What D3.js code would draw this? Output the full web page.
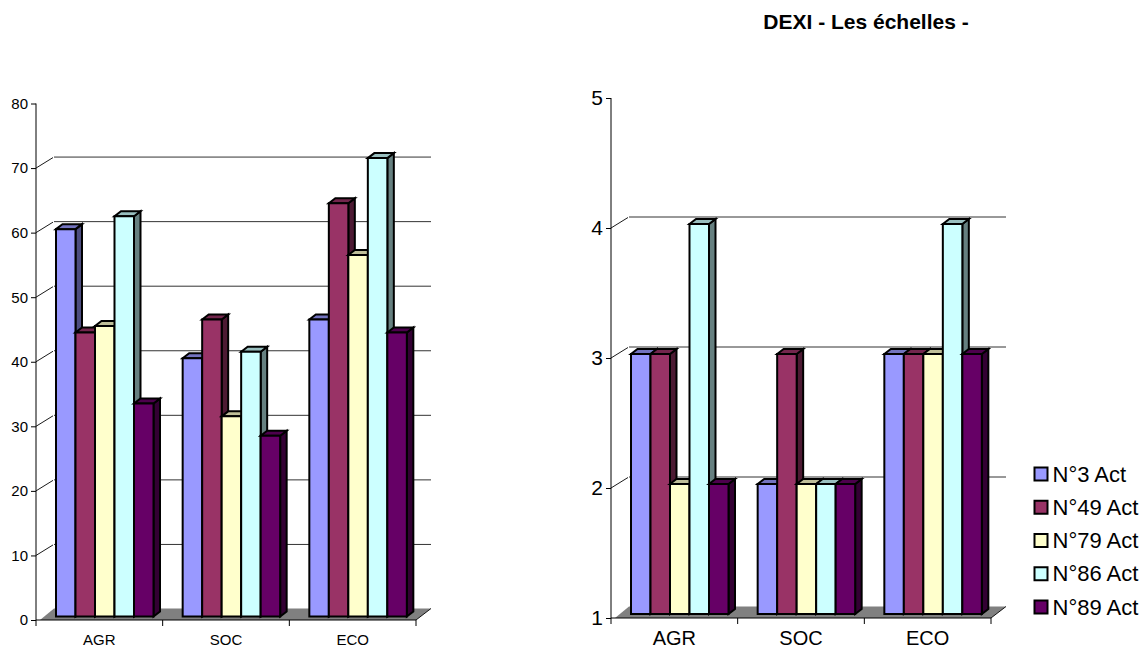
<!DOCTYPE html>
<html><head><meta charset="utf-8">
<script src="https://cdn.jsdelivr.net/npm/d3@7/dist/d3.min.js"></script>
<style>html,body{margin:0;padding:0;background:#fff}svg{display:block}text{font-family:"Liberation Sans",Arial,sans-serif;fill:#000}</style>
</head><body><svg id="c" width="1143" height="649"></svg>
<script>
const categories=["AGR","SOC","ECO"];
const seriesNames=["N°3 Act","N°49 Act","N°79 Act","N°86 Act","N°89 Act"];
const colors=["#9999FF","#993366","#FFFFCC","#CCFFFF","#660066"];
const leftValues=[[60,40,46],[44,46,64],[45,31,56],[62,41,71],[33,28,44]];
const rightValues=[[3,2,3],[3,3,3],[2,2,3],[4,2,4],[2,2,3]];
const leftTicks=[0,10,20,30,40,50,60,70,80];
const rightTicks=[1,2,3,4,5];
const titleText="DEXI - Les échelles -";

const svg=d3.select("#c");
function panel(o){
  const g=svg.append("g");
  const x=d3.scaleBand().domain(categories).range([o.x0,o.x1]);
  const y=d3.scaleLinear().domain(o.domain).range([o.y0,o.y1]);
  const dx=o.wallDx,dxR=o.wallDxR,dy=o.wallDy;
  o.ticks.slice(1,-1).forEach(t=>{
    g.append("line").attr("x1",o.x0).attr("y1",y(t)).attr("x2",o.x0+dx-1).attr("y2",y(t)-dy+1).attr("stroke","#000").attr("stroke-width",0.9);
    g.append("line").attr("x1",o.x0+dx).attr("y1",y(t)-dy+.5).attr("x2",o.x1+dxR).attr("y2",y(t)-dy+.5).attr("stroke","#333").attr("stroke-width",1);
  });
  g.append("polygon").attr("fill","#808080").attr("points",[
    [o.x0+4,o.y0],[o.x0+dx,o.y0-dy],[o.x1+dxR,o.y0-dy],[o.x1,o.y0]].join(" "));
  g.append("line").attr("x1",o.x1).attr("y1",o.y0).attr("x2",o.x1+dxR).attr("y2",o.y0-dy).attr("stroke","#000").attr("stroke-width",.9);
  const bw=19.5,dpx=6.5,dpy=5,ox=20,oy=o.barLift;
  categories.forEach((c,ci)=>{
    seriesNames.forEach((s,si)=>{
      const v=o.values[si][ci];
      const L=x(c)+ox+si*bw,R=L+bw,T=y(v)-oy,B=y(o.domain[0])-oy;
      const col=d3.color(colors[si]);
      const f=(k)=>d3.rgb(col.r*k,col.g*k,col.b*k).formatHex();
      const poly=(pts,fill)=>g.append("polygon").attr("points",pts.join(" ")).attr("fill",fill).attr("stroke","#000").attr("stroke-width",2).attr("stroke-linejoin","miter");
      poly([[R,T],[R+dpx,T-dpy],[R+dpx,B-dpy],[R,B]],f(0.5));
      poly([[L,T],[L+dpx,T-dpy],[R+dpx,T-dpy],[R,T]],f(0.75));
      poly([[L,T],[R,T],[R,B],[L,B]],f(1));
    });
  });
  const ay=d3.axisLeft(y).tickValues(o.ticks).tickSize(5).tickPadding(3).tickFormat(d3.format("d"));
  const gy=g.append("g").attr("transform",`translate(${o.x0},0)`).call(ay);
  gy.selectAll("text").style("font-size",o.tickFont+"px").attr("fill","#000");
  gy.selectAll(".domain,line").attr("stroke","#000");
  gy.select(".domain").attr("d",`M0,${y(o.ticks[o.ticks.length-1])}V${o.y0}`);
  const ax=d3.axisBottom(x).tickSize(0).tickPadding(o.catPad);
  const gx=g.append("g").attr("transform",`translate(0,${o.y0})`).call(ax);
  gx.select(".domain").attr("d",`M${o.x0},0H${o.x1}`).attr("stroke","#000");
  gx.selectAll("text").style("font-size",o.catFont+"px").attr("fill","#000");
  const edges=categories.map(c=>x(c)).concat([o.x1]);
  g.selectAll(null).data(edges).join("line").attr("x1",d=>d).attr("x2",d=>d).attr("y1",o.y0).attr("y2",o.y0+6).attr("stroke","#000");
}
panel({x0:36,x1:416,y0:620,y1:103.5,domain:[0,80],ticks:leftTicks,values:leftValues,wallDx:18,wallDxR:15,wallDy:11.5,barLift:3.5,tickFont:15,catFont:15,catPad:14});
panel({x0:611,x1:991,y0:618,y1:98,domain:[1,5],ticks:rightTicks,values:rightValues,wallDx:18,wallDxR:15,wallDy:11.5,barLift:4,tickFont:21,catFont:20,catPad:13});

svg.append("text").attr("x",866).attr("y",29).attr("text-anchor","middle").style("font-size","21px").style("font-weight","bold").text(titleText);

const legY=d3.scalePoint().domain(seriesNames).range([474,607]);
const leg=svg.append("g").selectAll("g").data(seriesNames).join("g").attr("transform",d=>`translate(0,${legY(d)})`);
leg.append("rect").attr("x",1034.5).attr("y",-6.5).attr("width",13).attr("height",13).attr("fill",(d,i)=>colors[i]).attr("stroke","#000").attr("stroke-width",2);
leg.append("text").attr("x",1052.5).attr("y",7.5).style("font-size","22px").text(d=>d);
</script></body></html>
